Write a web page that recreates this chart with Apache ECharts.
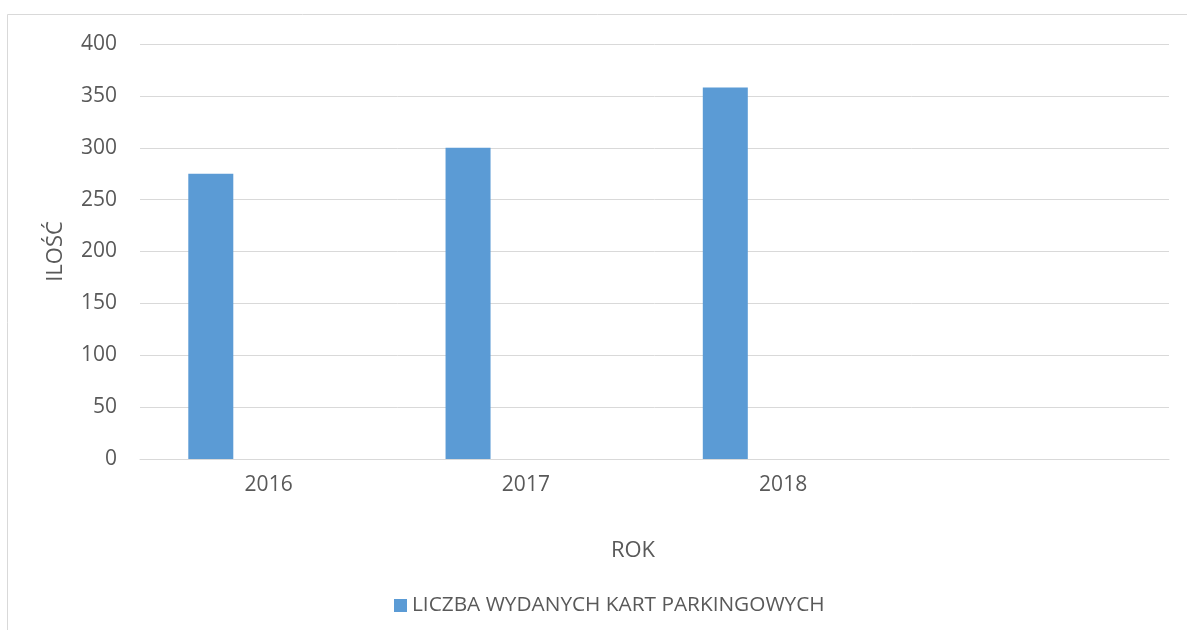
<!DOCTYPE html>
<html>
<head>
<meta charset="utf-8">
<script src="https://cdn.jsdelivr.net/npm/echarts@6/dist/echarts.min.js"></script>
<style>
  html, body { margin: 0; padding: 0; background: #fff; }
  #chart { width: 1187px; height: 630px; }
</style>
</head>
<body>
<div id="chart"></div>
<script>
// lata (ostatnia pozycja pusta, jak w arkuszu)
var years = ['2016', '2017', '2018', ''];
var cards = [275, 300, 358, null];
var emptySeries = [null, null, null, null];
var yTicks = [0, 50, 100, 150, 200, 250, 300, 350, 400];

var textColor = '#595959';
var gridColor = '#d9d9d9';

var chart = echarts.init(document.getElementById('chart'));
var option = {
    animation: false,
    backgroundColor: '#fff',
    textStyle: { fontFamily: 'Open Sans' },
    graphic: [{
        type: 'rect',
        shape: { x: 7.5, y: 14.5, width: 1200, height: 700 },
        style: { fill: 'none', stroke: gridColor, lineWidth: 1 },
        silent: true
    }],
    title: {
        text: 'ROK',
        left: 628,
        top: 535,
        textAlign: 'center',
        textStyle: { color: textColor, fontSize: 22, fontWeight: 'normal', fontFamily: 'Open Sans' }
    },
    legend: {
        data: ['LICZBA WYDANYCH KART PARKINGOWYCH'],
        left: 389,
        top: 590,
        itemWidth: 13,
        itemHeight: 13,
        itemGap: 10,
        icon: 'rect',
        textStyle: { color: textColor, fontSize: 20.8, fontFamily: 'Open Sans' }
    },
    grid: {
        left: 140,
        right: 18,
        top: 44,
        bottom: 171,
        containLabel: false
    },
    xAxis: {
        type: 'category',
        data: years,
        axisLine: { show: true, lineStyle: { color: gridColor, width: 1 } },
        axisTick: { show: false },
        axisLabel: { color: textColor, fontSize: 21, margin: 16 }
    },
    yAxis: {
        type: 'value',
        min: yTicks[0],
        max: yTicks[yTicks.length - 1],
        interval: 50,
        name: 'ILOŚĆ',
        nameLocation: 'middle',
        nameRotate: 90,
        nameGap: 73,
        nameTextStyle: { color: textColor, fontSize: 22 },
        axisLine: { show: false },
        axisTick: { show: false },
        axisLabel: { color: textColor, fontSize: 21, margin: 23 },
        splitLine: { lineStyle: { color: gridColor, width: 1 } }
    },
    series: [{
        name: 'LICZBA WYDANYCH KART PARKINGOWYCH',
        type: 'bar',
        data: cards,
        barWidth: 45,
        barGap: '157%',
        itemStyle: { color: '#5b9bd5' }
    }, {
        name: 'puste',
        type: 'bar',
        data: emptySeries,
        barWidth: 45,
        itemStyle: { color: '#ed7d31' }
    }]
};
chart.setOption(option);
</script>
</body>
</html>
